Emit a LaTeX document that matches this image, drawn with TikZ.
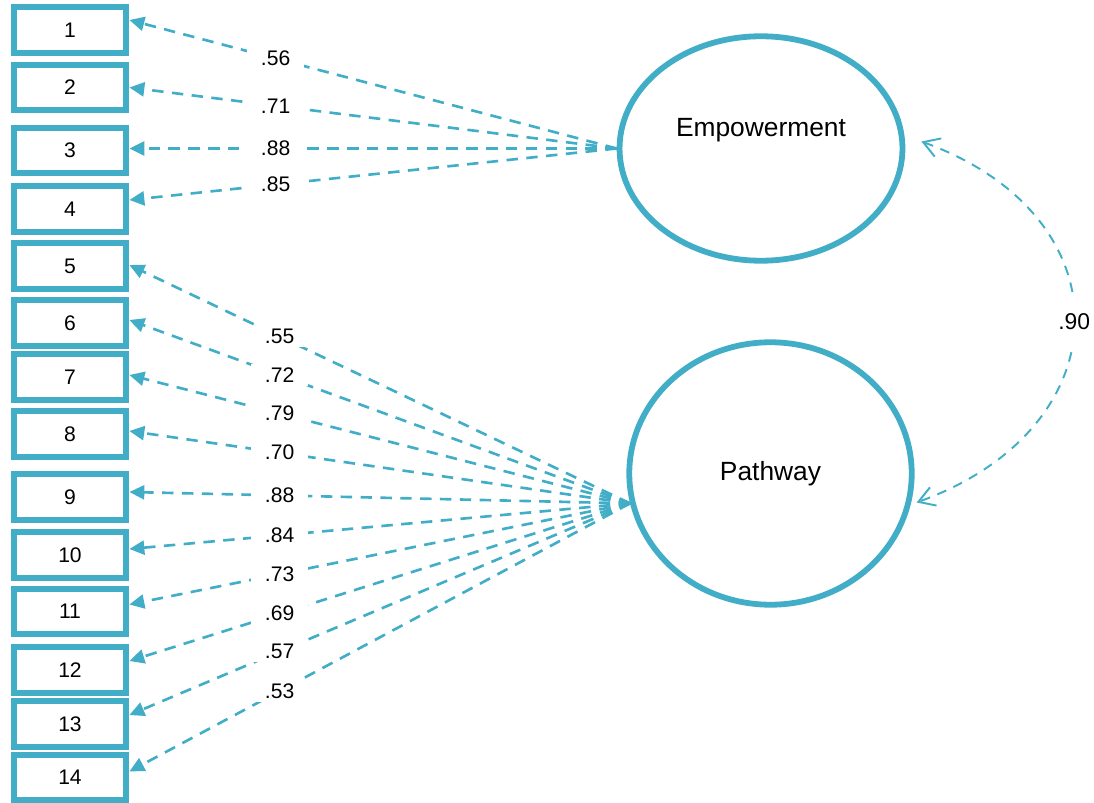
\documentclass[tikz,border=0pt]{standalone}
\usepackage{fontspec}
\setmainfont{Liberation Sans}
\usetikzlibrary{arrows.meta,shapes.geometric}
\definecolor{semblue}{HTML}{41ADC7}

\begin{document}
\begin{tikzpicture}[x=0.02cm,y=-0.02cm,
  item/.style={draw=semblue,line width=3.6pt,fill=white,minimum width=2.25cm,minimum height=0.91cm,inner sep=0pt,font=\fontsize{12}{14}\selectfont},
  latent/.style={ellipse,draw=semblue,line width=3.3pt,inner sep=0pt,font=\fontsize{15}{18}\selectfont},
  load/.style={semblue,line width=1.5pt,dash pattern=on 6.5pt off 4.8pt,-{Triangle[length=8.5pt,width=8pt]}},
  lbl/.style={fill=white,inner xsep=8pt,inner ysep=2pt,text=black,font=\fontsize{12}{14}\selectfont},
  corr/.style={semblue,line width=1.1pt,dash pattern=on 5.5pt off 4.5pt,{Straight Barb[length=9pt,width=11pt]}-{Straight Barb[length=9pt,width=11pt]}}]
\useasboundingbox (0,0) rectangle (1094,803);

% observed items
\foreach \i/\y in {1/30,2/87.5,3/150.5,4/209,5/266,6/323,7/377,8/434,9/497,10/555,11/611.5,12/670,13/724,14/777.5}
  \node[item] (b\i) at (70,\y) {\i};

% latent factors
\node[latent,minimum width=5.66cm,minimum height=4.49cm] (emp) at (761,148.5) {\raisebox{24pt}{Empowerment}};
\node[latent,minimum width=5.65cm,minimum height=5.25cm] (pw) at (770.5,473.5) {Pathway};

% loadings
\foreach \i/\dy/\v in {1/10/.56,2/0/.71,3/2/.88,4/9/.85}
  \draw[load] (emp.west) -- node[lbl,pos=0.7] {\v} ([shift={(0,-\dy)}]b\i.east);
\foreach \i/\dy/\v in {5/1/.55,6/3/.72,7/2/.79,8/3/.70,9/5/.88,10/6/.84,11/7/.73,12/9/.69,13/9/.57,14/6/.53}
  \draw[load] (pw.192) -- node[lbl,pos=0.7] {\v} ([shift={(0,-\dy)}]b\i.east);

% correlation
\draw[corr] ([shift={(16,-7)}]emp.east) .. controls +(207,75) and +(207,-75) .. node[lbl,pos=0.5,inner xsep=2pt,inner ysep=9pt,font=\fontsize{13}{15}\selectfont] {.90} ([shift={(2,29)}]pw.east);

\end{tikzpicture}
\end{document}
